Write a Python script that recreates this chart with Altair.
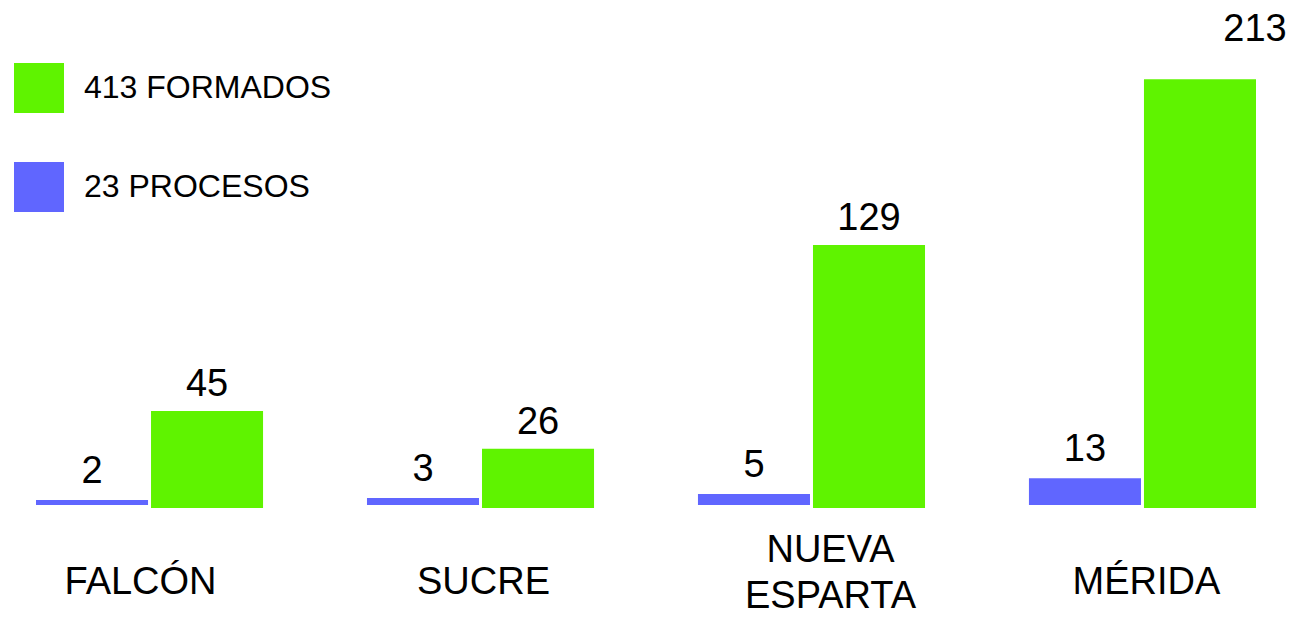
import altair as alt
import pandas as pd

# ---- data ----
estados = ["FALCÓN", "SUCRE", "NUEVA ESPARTA", "MÉRIDA"]
procesos = [2, 3, 5, 13]
formados = [45, 26, 129, 213]
serie_proc = "23 PROCESOS"
serie_form = "413 FORMADOS"

rows = []
for e, p, f in zip(estados, procesos, formados):
    rows.append({"estado": e, "serie": serie_proc, "valor": p})
    rows.append({"estado": e, "serie": serie_form, "valor": f})
df = pd.DataFrame(rows)

GREEN = "#5FF300"
BLUE = "#6066FF"
FONT = "Liberation Sans"

x_enc = alt.X(
    "estado:N",
    sort=estados,
    scale=alt.Scale(range=[28, 1248], paddingInner=0.314, paddingOuter=0),
    axis=alt.Axis(
        title=None, domain=False, ticks=False, grid=False, labelAngle=0,
        labelFont=FONT, labelFontSize=38, labelColor="black",
        labelPadding={
            "condition": {"test": "datum.value == 'NUEVA ESPARTA'", "value": 50},
            "value": 82,
        },
        labelOffset={
            "condition": [
                {"test": "datum.value == 'NUEVA ESPARTA'", "value": 19},
                {"test": "datum.value == 'FALCÓN'", "value": -9},
                {"test": "datum.value == 'SUCRE'", "value": 3},
                {"test": "datum.value == 'MÉRIDA'", "value": 4},
            ],
            "value": 0,
        },
        labelBaseline="middle", labelLineHeight=46,
        labelExpr="split(datum.label, ' ')", labelLimit=0,
    ),
)
xo_enc = alt.XOffset(
    "serie:N",
    sort=[serie_proc, serie_form],
    scale=alt.Scale(domain=[serie_proc, serie_form], paddingInner=0.026, paddingOuter=0),
)
y_enc = alt.Y("valor:Q", scale=alt.Scale(domain=[0, 249], nice=False), axis=None)
color_enc = alt.Color(
    "serie:N",
    scale=alt.Scale(domain=[serie_form, serie_proc], range=[GREEN, BLUE]),
    legend=alt.Legend(
        title=None, orient="none", legendX=6, legendY=55, padding=0,
        symbolType="square", symbolSize=2500, symbolStrokeWidth=0, symbolOpacity=1,
        labelFont=FONT, labelFontSize=32, labelColor="black", labelOffset=20,
        rowPadding=49, labelLimit=0,
    ),
)

base = alt.Chart(df).encode(x=x_enc, xOffset=xo_enc, y=y_enc)

bars_form = base.transform_filter(alt.datum.serie == serie_form).mark_bar(
    y2Offset=8
).encode(y2=alt.datum(0), color=color_enc)
bars_proc = base.transform_filter(alt.datum.serie == serie_proc).mark_bar(
    yOffset=4, y2Offset=5
).encode(y2=alt.datum(0), color=color_enc)

txt_style = dict(font=FONT, fontSize=38, color="black", baseline="alphabetic", align="center")

max_form = max(formados)
text_form = base.transform_filter(
    (alt.datum.serie == serie_form) & (alt.datum.valor < max_form)
).mark_text(dy=-15, **txt_style).encode(text="valor:Q")
text_form_max = base.transform_filter(
    (alt.datum.serie == serie_form) & (alt.datum.valor == max_form)
).mark_text(dy=-38, dx=55, **txt_style).encode(text="valor:Q")
text_proc = base.transform_filter(alt.datum.serie == serie_proc).mark_text(
    dy=-13, **txt_style
).encode(text="valor:Q")

chart = alt.layer(bars_proc, bars_form, text_proc, text_form, text_form_max).properties(
    width=1283,
    height=492,
    autosize=alt.AutoSizeParams(type="none"),
    padding={"left": 0, "top": 0, "right": 0, "bottom": 127},
    background="white",
).configure_view(stroke=None)

chart.save("out.html", embed_options={"renderer": "svg", "actions": False})
